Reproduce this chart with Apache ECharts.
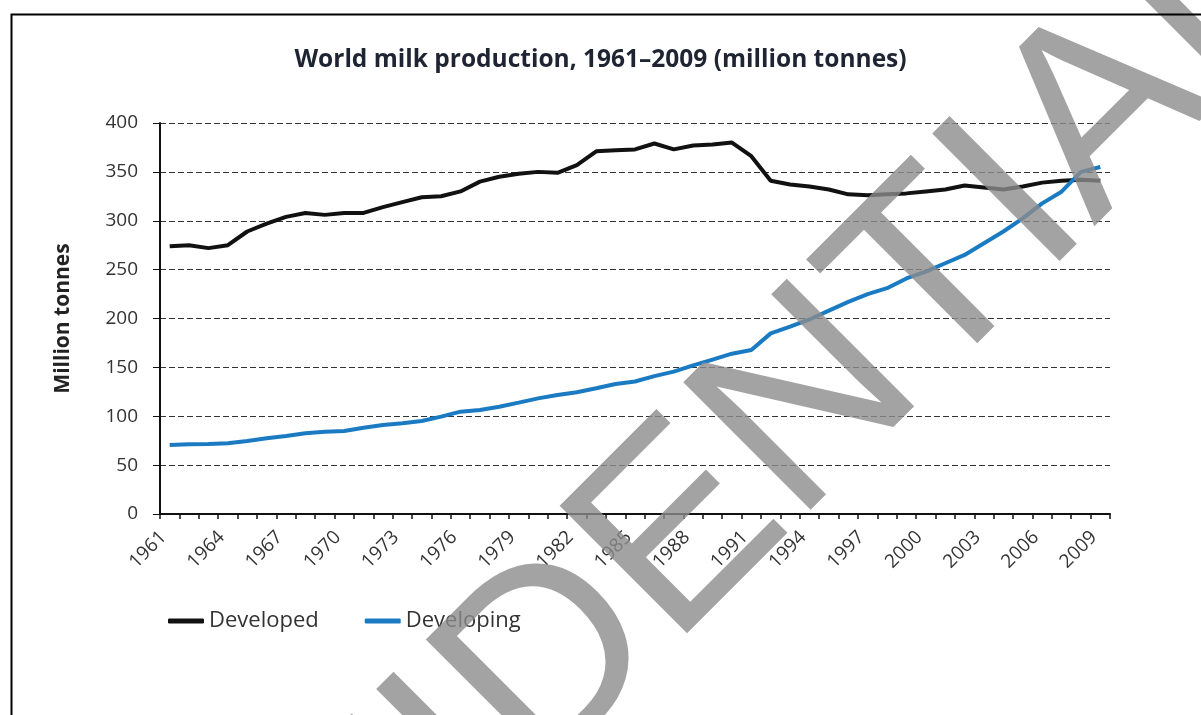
<!DOCTYPE html>
<html>
<head>
<meta charset="utf-8">
<script src="https://cdn.jsdelivr.net/npm/echarts@6/dist/echarts.min.js"></script>
<style>html,body{margin:0;padding:0;background:#fff}#c{width:1201px;height:715px}</style>
</head>
<body>
<div id="c"></div>
<script>
const years = [];
for (let y = 1961; y <= 2009; y++) years.push(String(y));
const developed = [274,275,272,275,289,297,304,308,306,308,308,314,319,324,325,330,340,345,348,350,349,357,371,372,373,379,373,377,378,380,366,341,337,335,332,327,326,327,328,330,332,336,334,332,335,339,341,342,341];
const developing = [70.5,71.3,71.6,72.3,74.7,77.4,79.8,82.5,84.2,84.9,88.3,91,92.8,95.1,99.6,104.7,106.4,109.8,113.9,118.3,121.7,124.5,128.6,133,135.5,141,145.6,152,158,164,167.8,184.8,191.6,199,208,217,225,231,241,248,256.5,265,277,289,302.5,317.8,329.7,350,355];
const seriesNames = ['Developed','Developing'];
const titleText = 'World milk production, 1961\u20132009 (million tonnes)';
const yName = 'Million tonnes';
const watermark = 'CONFIDENTIAL';

const chart = echarts.init(document.getElementById('c'));
chart.setOption({
  animation: false,
  backgroundColor: '#fff',
  title: {
    text: titleText, left: 'center', top: 43,
    textStyle: {fontFamily: 'Open Sans', fontWeight: 'bold', fontSize: 24.5, color: '#1f2433'}
  },
  legend: {
    left: 163, top: 605, itemWidth: 36, itemHeight: 5, itemGap: 46,
    icon: 'roundRect',
    textStyle: {fontFamily: 'Open Sans', fontSize: 22, color: '#333'},
    data: seriesNames
  },
  grid: {left: 160, right: 91, top: 123, bottom: 201, containLabel: false},
  xAxis: {
    type: 'category', data: years, boundaryGap: true,
    axisLine: {lineStyle: {color: '#111', width: 2}},
    axisTick: {show: true, interval: 0, length: 5, lineStyle: {color: '#111', width: 1.5}},
    axisLabel: {interval: 2, rotate: 45, fontFamily: 'Open Sans', fontSize: 19, color: '#333', margin: 14, padding: [0, 9, 0, 0]}
  },
  yAxis: {
    type: 'value', min: 0, max: 400, interval: 50,
    name: yName, nameLocation: 'middle', nameGap: 86, nameRotate: 90,
    nameTextStyle: {fontFamily: 'Open Sans', fontWeight: 'bold', fontSize: 21, color: '#222'},
    axisLine: {show: true, lineStyle: {color: '#111', width: 2}},
    axisTick: {show: true, length: 7, lineStyle: {color: '#111'}},
    axisLabel: {fontFamily: 'Open Sans', fontSize: 19, color: '#333', margin: 22},
    splitLine: {lineStyle: {color: '#333', type: [6, 3], width: 1}}
  },
  series: [
    {name: seriesNames[0], type: 'line', data: developed, symbol: 'none', smooth: false,
     lineStyle: {color: '#111', width: 4}, itemStyle: {color: '#111'}, z: 3},
    {name: seriesNames[1], type: 'line', data: developing, symbol: 'none', smooth: false,
     lineStyle: {color: '#1b7bc2', width: 4}, itemStyle: {color: '#1b7bc2'}, z: 4}
  ],
  graphic: [
    {type: 'rect', left: 9, top: 12, shape: {width: 1220, height: 730}, silent: true,
     style: {fill: 'none', stroke: '#000', lineWidth: 2}, z: 100},
    {type: 'text', x: 590, y: 628, rotation: 0.785, silent: true, z: 50,
     style: {text: watermark, font: '262px "Liberation Sans"', fill: 'rgba(140,140,140,0.8)', align: 'center', verticalAlign: 'middle'}}
  ]
});
</script>
</body>
</html>
